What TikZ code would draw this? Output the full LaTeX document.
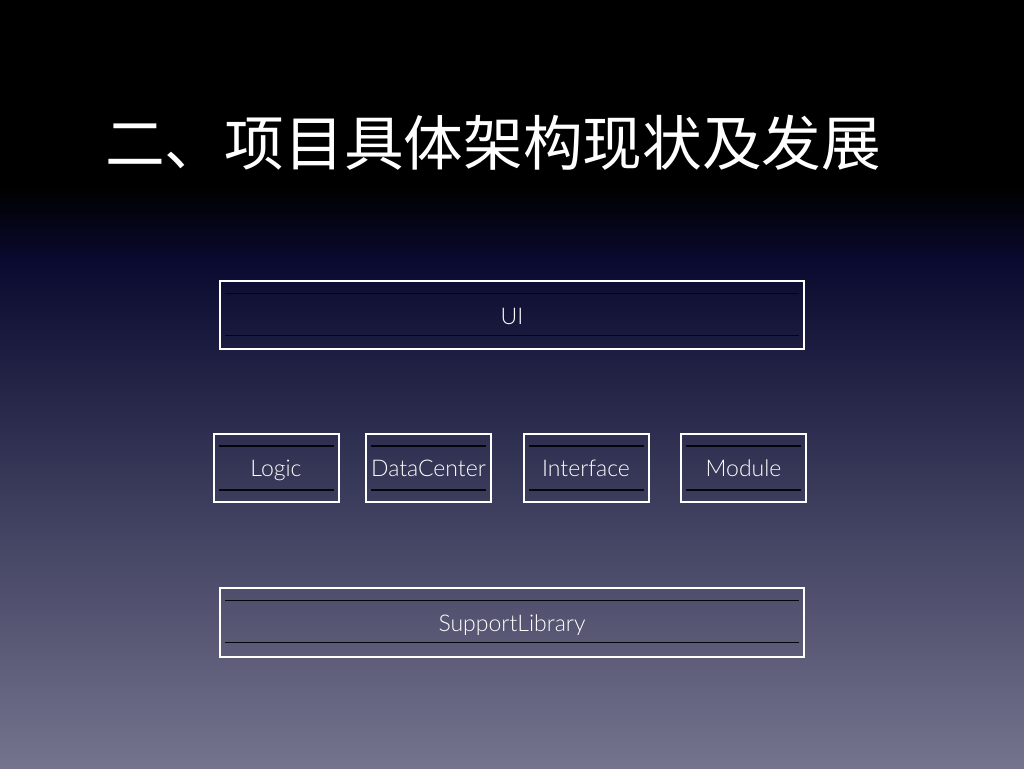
\documentclass[tikz,border=0pt]{standalone}
\usepackage{fontspec}
\setmainfont{Liberation Sans}
\newfontfamily\lightsans{Lato}[UprightFont={* Light}]
\newfontfamily\cjk{Noto Sans CJK SC}
\definecolor{bgtop}{HTML}{000000}
\definecolor{bgmid}{HTML}{0A0A30}
\definecolor{bgbot}{HTML}{74748E}
\definecolor{innerline}{HTML}{05050C}
\begin{document}
\begin{tikzpicture}[x=1pt,y=1pt,
  layerbox/.style={draw=white,line width=2pt,minimum height=68pt,inner sep=0pt},
  layertext/.style={anchor=base,inner sep=0pt,text=white,font=\lightsans\fontsize{23}{26}\selectfont},
  innerln/.style={draw=innerline,line width=1.5pt}]
\useasboundingbox (0,0) rectangle (1024,768);
\fill[bgtop] (0,768) rectangle (1024,580);
\shade[top color=bgtop,bottom color=bgmid] (0,582) rectangle (1024,506);
\shade[top color=bgmid,bottom color=bgbot] (0,508) rectangle (1024,0);
\node[anchor=west,text=white,inner sep=0pt,font=\cjk\fontsize{59.7}{64}\selectfont] (title) at (105,625) {二、项目具体架构现状及发展};
% UI
\node[layerbox,minimum width=584pt] (ui) at (512,452.5) {};
\node[layertext] (uit) at ([yshift=-9pt]ui.center) {UI};
\draw[innerln] ([xshift=6pt,yshift=-13pt]ui.north west) -- ([xshift=-6pt,yshift=-13pt]ui.north east);
\draw[innerln] ([xshift=6pt,yshift=15pt]ui.south west) -- ([xshift=-6pt,yshift=15pt]ui.south east);
% middle row
\foreach \nm/\cx/\tx in {logic/276/Logic,dc/428.5/DataCenter,intf/586/Interface,mod/743.5/Module}{
  \node[layerbox,minimum width=125pt] (\nm) at (\cx,300) {};
  \node[layertext] (\nm t) at ([yshift=-9pt]\nm.center) {\tx};
  \draw[innerln] ([xshift=6pt,yshift=-13pt]\nm.north west) -- ([xshift=-6pt,yshift=-13pt]\nm.north east);
  \draw[innerln] ([xshift=6pt,yshift=13pt]\nm.south west) -- ([xshift=-6pt,yshift=13pt]\nm.south east);
}
% SupportLibrary
\node[layerbox,minimum width=584pt] (sl) at (512,145.5) {};
\node[layertext] (slt) at ([yshift=-9pt]sl.center) {SupportLibrary};
\draw[innerln] ([xshift=6pt,yshift=-13pt]sl.north west) -- ([xshift=-6pt,yshift=-13pt]sl.north east);
\draw[innerln] ([xshift=6pt,yshift=15pt]sl.south west) -- ([xshift=-6pt,yshift=15pt]sl.south east);
\end{tikzpicture}
\end{document}
